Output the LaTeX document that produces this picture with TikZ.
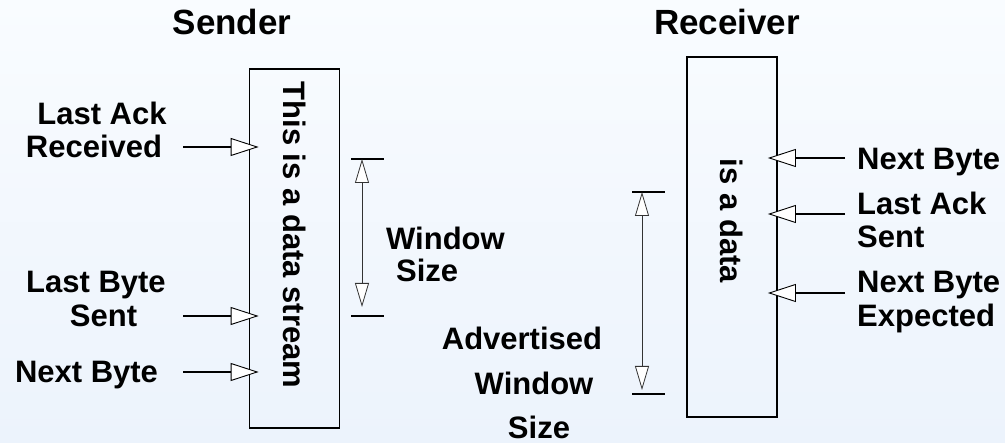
\documentclass[tikz,border=0pt]{standalone}
\usepackage{fontspec}
\setmainfont{Liberation Sans}
\usetikzlibrary{arrows.meta}
\begin{document}
\begin{tikzpicture}[x=1pt,y=-1pt,
  lbl/.style={font=\fontsize{31}{33}\selectfont\bfseries, inner sep=0pt},
  ttl/.style={font=\fontsize{35}{40}\selectfont\bfseries, inner sep=0pt},
  buf/.style={draw, line width=1.8pt, minimum width=90pt, inner sep=0pt},
  ptr/.style={line width=1.8pt, -{Triangle[fill=white, length=28pt, width=18pt, line width=0.9pt]}},
  span/.style={line width=0.8pt, draw=black!80, {Triangle[fill=white, length=24pt, width=14pt, line width=0.8pt]}-{Triangle[fill=white, length=24pt, width=14pt, line width=0.8pt]}},
  tickln/.style={line width=1.8pt},
]
\useasboundingbox (0,0) rectangle (1005,443);
\shade[top color={rgb,255:red,249;green,252;blue,255}, bottom color={rgb,255:red,236;green,243;blue,252}] (0,0) rectangle (1005,443);

% titles
\node[ttl, anchor=base] (stitle) at (232,35) {Sender};
\node[ttl, anchor=base] (rtitle) at (727,35) {Receiver};

% buffers
\node[buf, minimum height=359pt] (sbox) at (294.5,248.5) {};
\node[lbl, rotate=-90] (stext) at (294.5,235) {This is a data stream};
\node[buf, minimum height=360pt] (rbox) at (732,237) {};
\node[lbl, rotate=-90] (rtext) at (732,221) {is a data};

% sender labels
\node[lbl, anchor=base] (la1) at (102,125) {Last Ack};
\node[lbl, anchor=base] (la2) at (94,158) {Received};
\node[lbl, anchor=base] (lb1) at (96,293) {Last Byte};
\node[lbl, anchor=base] (lb2) at (103.5,327) {Sent};
\node[lbl, anchor=base] (nb) at (86.5,383) {Next Byte};

% sender pointers
\coordinate (s1) at (183,147);
\coordinate (s2) at (183,316);
\coordinate (s3) at (183,372);
\draw[ptr] (s1) -- ([xshift=10pt]s1 -| sbox.west);
\draw[ptr] (s2) -- ([xshift=10pt]s2 -| sbox.west);
\draw[ptr] (s3) -- ([xshift=10pt]s3 -| sbox.west);

% window size
\coordinate (wtop) at (362,159);
\coordinate (wbot) at (362,316);
\draw[tickln] ([xshift=-11pt]wtop) -- ([xshift=22pt]wtop);
\draw[tickln] ([xshift=-11pt]wbot) -- ([xshift=22pt]wbot);
\draw[span] (wtop) -- ([yshift=9pt]wbot);
\node[lbl, anchor=base west] (ws1) at (386,250) {Window};
\node[lbl, anchor=base west] (ws2) at (396,282) {Size};

% receiver labels
\node[lbl, anchor=base west] (rn) at (857,170) {Next Byte};
\node[lbl, anchor=base west] (ra1) at (857,215) {Last Ack};
\node[lbl, anchor=base west] (ra2) at (857,248) {Sent};
\node[lbl, anchor=base west] (re1) at (857,293) {Next Byte};
\node[lbl, anchor=base west] (re2) at (857,327) {Expected};

% receiver pointers
\coordinate (r1) at (845,158);
\coordinate (r2) at (845,214);
\coordinate (r3) at (845,293);
\draw[ptr] (r1) -- ([xshift=-10pt]r1 -| rbox.east);
\draw[ptr] (r2) -- ([xshift=-10pt]r2 -| rbox.east);
\draw[ptr] (r3) -- ([xshift=-10pt]r3 -| rbox.east);

% advertised window
\coordinate (atop) at (642,192);
\coordinate (abot) at (642,394);
\draw[tickln] ([xshift=-10pt]atop) -- ([xshift=23pt]atop);
\draw[tickln] ([xshift=-10pt]abot) -- ([xshift=23pt]abot);
\draw[span] (atop) -- ([yshift=4pt]abot);
\node[lbl, anchor=base] (aw1) at (522,350) {Advertised};
\node[lbl, anchor=base] (aw2) at (534,395) {Window};
\node[lbl, anchor=base] (aw3) at (539,438.5) {Size};
\end{tikzpicture}
\end{document}
